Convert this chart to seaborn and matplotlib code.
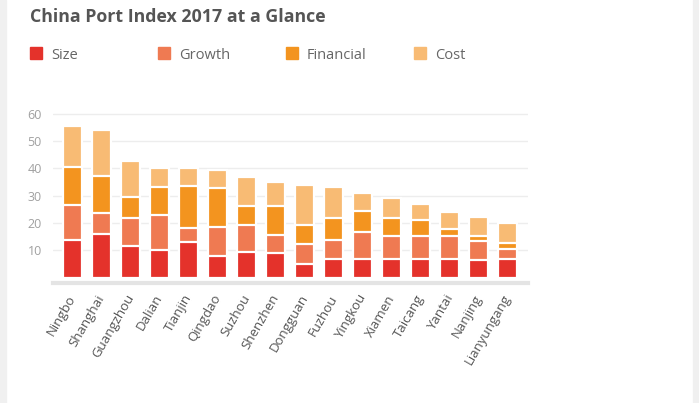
import matplotlib
matplotlib.use("Agg")
import matplotlib.pyplot as plt
from matplotlib.patches import Rectangle
import pandas as pd
import seaborn as sns

ports = ["Ningbo", "Shanghai", "Guangzhou", "Dalian", "Tianjin", "Qingdao",
         "Suzhou", "Shenzhen", "Dongguan", "Fuzhou", "Yingkou", "Xiamen",
         "Taicang", "Yantai", "Nanjing", "Lianyungang"]
size = [13.7, 16.0, 11.6, 10.2, 13.2, 8.1, 9.5, 9.2, 5.0, 7.0, 7.0, 7.0, 6.9, 7.0, 6.6, 6.8]
growth = [12.8, 7.6, 10.4, 12.7, 4.9, 10.6, 9.8, 6.5, 7.5, 6.9, 9.6, 8.2, 8.4, 8.4, 6.8, 3.8]
financial = [14.1, 13.6, 7.6, 10.4, 15.4, 14.0, 7.1, 10.7, 6.9, 8.1, 7.8, 6.8, 6.0, 2.3, 1.8, 2.1]
cost = [15.0, 16.7, 13.2, 7.0, 6.8, 6.7, 10.4, 8.6, 14.5, 11.1, 6.6, 7.2, 5.8, 6.5, 7.1, 7.5]

series = ["Size", "Growth", "Financial", "Cost"]
colors = ["#e4322b", "#ef7a52", "#f3941f", "#f8bb74"]

df = pd.DataFrame({"port": ports, "Size": size, "Growth": growth,
                   "Financial": financial, "Cost": cost})
# running totals so each layer can be drawn over the next one
cum = df[series].cumsum(axis=1)
cum["port"] = df["port"]

sns.set_style("white")
plt.rcParams["font.family"] = ["Open Sans", "DejaVu Sans"]

W, H = 699, 403
fig = plt.figure(figsize=(W / 100, H / 100), dpi=100)
fig.patch.set_facecolor("white")

# light grey frame strips at the sides
fig.patches.append(Rectangle((0, 0), 6 / W, 1, transform=fig.transFigure,
                             color="#f0f0f0", zorder=0))
fig.patches.append(Rectangle((693 / W, 0), 6 / W, 1, transform=fig.transFigure,
                             color="#f0f0f0", zorder=0))

ax = fig.add_axes([53 / W, (H - 283) / H, 475 / W, (283 - 112) / H])

for name, col in reversed(list(zip(series, colors))):
    sns.barplot(data=cum, x="port", y=name, color=col, saturation=1,
                width=0.655, edgecolor="white", linewidth=1.6, ax=ax, zorder=3)

ax.set_xlim(-0.683, 15.69)
ax.set_ylim(-1.9, 60.6)
ax.set_yticks([10, 20, 30, 40, 50, 60])
ax.yaxis.grid(True, color="#ededed", linewidth=1)
ax.set_axisbelow(True)
ax.set_xlabel("")
ax.set_ylabel("")
for s in ["top", "right", "left"]:
    ax.spines[s].set_visible(False)
ax.spines["bottom"].set_color("#e4e4e4")
ax.spines["bottom"].set_linewidth(3)
ax.tick_params(axis="y", length=0, pad=8, labelsize=9, labelcolor="#a0a0a0")
ax.tick_params(axis="x", length=0, pad=9, labelsize=9.5, labelcolor="#555555")
ax.set_xticks(range(len(ports)))
ax.set_xticklabels(ports, rotation=60, ha="right", va="center",
                   rotation_mode="anchor")

fig.text(30 / W, 1 - 21.7 / H, "China Port Index 2017 at a Glance",
         fontsize=12.8, fontweight="bold", color="#555555", va="baseline")

for i, (name, col) in enumerate(zip(series, colors)):
    x0 = 30 + 128 * i
    fig.patches.append(Rectangle((x0 / W, 1 - 59 / H), 12 / W, 12 / H,
                                 transform=fig.transFigure, color=col))
    fig.text((x0 + 21) / W, 1 - 59 / H, name, fontsize=10.5,
             color="#666666", va="baseline")

fig.savefig("out.png", dpi=100)
